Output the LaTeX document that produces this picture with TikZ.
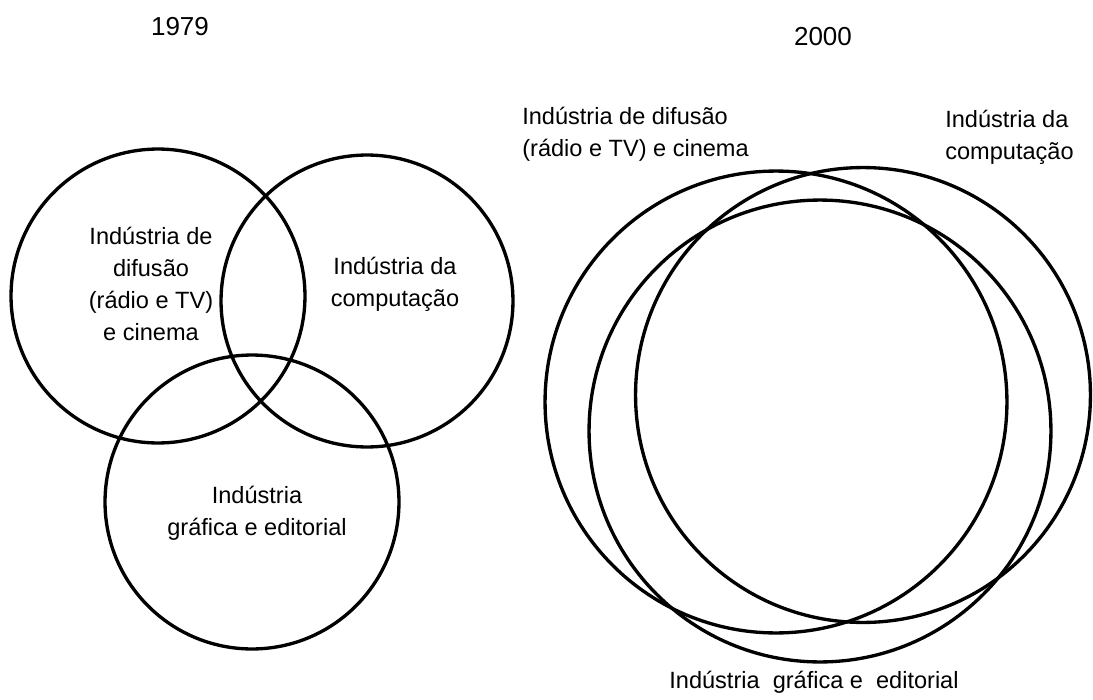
\documentclass[tikz,border=0pt]{standalone}
\usepackage{fontspec}
\setmainfont{Liberation Sans}
\tikzset{
  venn/.style={draw, circle, line width=1.9pt, inner sep=0pt},
  setor/.style={font=\fontsize{13.4}{18.2}\selectfont, align=center, inner sep=0pt},
  ano/.style={font=\fontsize{14.8}{17}\selectfont, inner sep=0pt},
}
\begin{document}
\begin{tikzpicture}[x=0.02cm, y=-0.02cm]
    \useasboundingbox (0,0) rectangle (1093,700);

    % Years
    \node[ano] (ano79) at (180,27) {1979};
    \node[ano] (ano00) at (823,37) {2000};

    % 1979: three separate circles
    \node[venn, minimum size=5.88cm] (difusao79) at (158,296) {};
    \node[venn, minimum size=5.84cm] (computacao79) at (367,301) {};
    \node[venn, minimum size=5.88cm] (grafica79) at (252,502) {};

    \node[setor] (tdifusao79) at (151,284) {Indústria de\\difusão\\(rádio e TV)\\e cinema};
    \node[setor] (tcomputacao79) at (395,284) {Indústria da\\computação};
    \node[setor] (tgrafica79) at (257,513) {Indústria\\gráfica e editorial};

    % 2000: almost the same circle
    \node[venn, minimum size=9.24cm] (difusao00) at (776,402) {};
    \node[venn, minimum size=9.24cm] (grafica00) at (820,431) {};
    \node[venn, minimum size=9.1cm] (computacao00) at (863,395) {};

    \node[setor, align=left, anchor=west] (tdifusao00) at (522,134) {Indústria de difusão\\(rádio e TV) e cinema};
    \node[setor, align=left, anchor=west] (tcomputacao00) at (945,137) {Indústria da\\computação};
    \node[setor] (tgrafica00) at (814,682) {Indústria~ gráfica e~ editorial};
\end{tikzpicture}
\end{document}
